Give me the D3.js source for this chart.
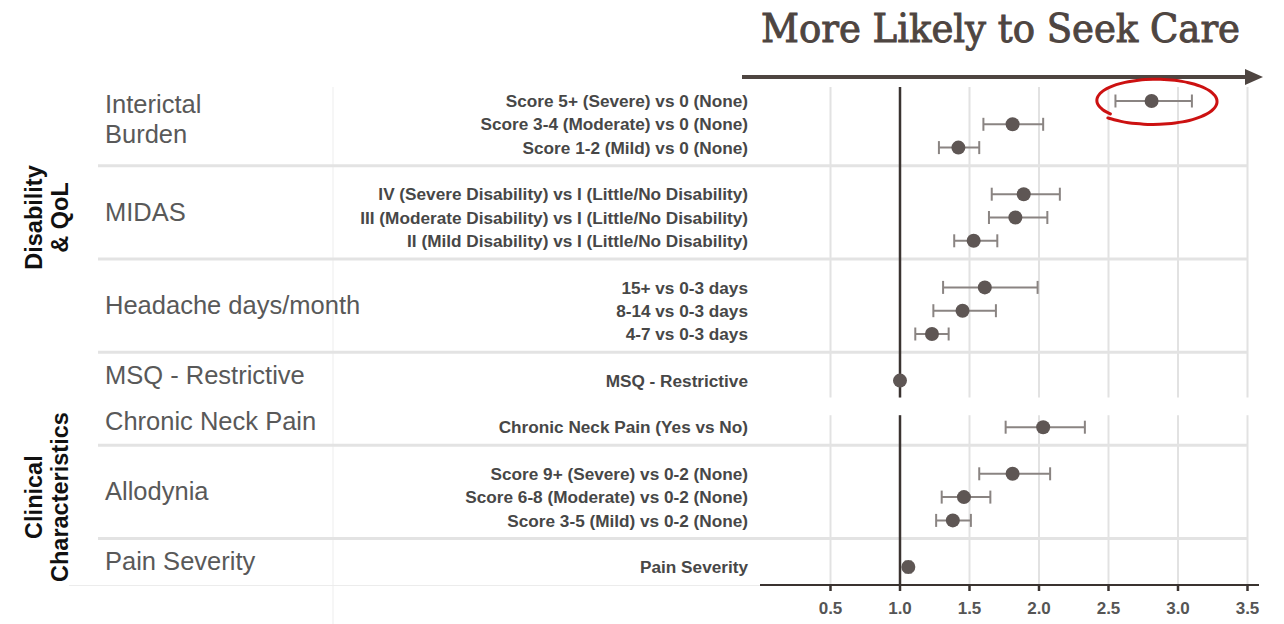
<!DOCTYPE html>
<html lang="en">
	<head>
		<meta charset="UTF-8" />
		<title>seek care forest plot</title>
		<style>
			body { margin: 0; background: #fff; }
		</style>
	</head>
	<body>
		<svg width="1284" height="624" id="mainsvg"></svg>
		<script src="https://cdn.jsdelivr.net/npm/d3@7"></script>
		<script>
			// data
			const groups = ["Interictal Burden", "MIDAS", "Headache days/month", "MSQ - Restrictive", "Chronic Neck Pain", "Allodynia", "Pain Severity"]
			const groupLines = [["Interictal", "Burden"], ["MIDAS"], ["Headache days/month"], ["MSQ - Restrictive"], ["Chronic Neck Pain"], ["Allodynia"], ["Pain Severity"]]
			const sections = ["Disability & QoL", "Clinical Characteristics"]
			const sectionLines = [["Disability", "& QoL"], ["Clinical", "Characteristics"]]
			const sectionGroups = [[0, 2], [4, 6]]
			const groupFacet = [0, 0, 0, 0, 1, 1, 1]

			const rowLabels = [
				"Score 5+ (Severe) vs 0 (None)",
				"Score 3-4 (Moderate) vs 0 (None)",
				"Score 1-2 (Mild) vs 0 (None)",
				"IV (Severe Disability) vs I (Little/No Disability)",
				"III (Moderate Disability) vs I (Little/No Disability)",
				"II (Mild Disability) vs I (Little/No Disability)",
				"15+ vs 0-3 days",
				"8-14 vs 0-3 days",
				"4-7 vs 0-3 days",
				"MSQ - Restrictive",
				"Chronic Neck Pain (Yes vs No)",
				"Score 9+ (Severe) vs 0-2 (None)",
				"Score 6-8 (Moderate) vs 0-2 (None)",
				"Score 3-5 (Mild) vs 0-2 (None)",
				"Pain Severity",
			]
			const rowGroup = [0, 0, 0, 1, 1, 1, 2, 2, 2, 3, 4, 5, 5, 5, 6]
			const oddsRatio = [2.81, 1.81, 1.42, 1.89, 1.83, 1.53, 1.61, 1.45, 1.23, 1.0, 2.03, 1.81, 1.46, 1.38, 1.06]
			const ciLow = [2.55, 1.6, 1.28, 1.66, 1.64, 1.39, 1.31, 1.24, 1.11, 0.99, 1.76, 1.57, 1.3, 1.26, 1.04]
			const ciHigh = [3.1, 2.03, 1.57, 2.15, 2.06, 1.7, 1.99, 1.69, 1.35, 1.01, 2.33, 2.08, 1.65, 1.51, 1.08]
			const xTicks = [0.5, 1.0, 1.5, 2.0, 2.5, 3.0, 3.5]
			const title = "More Likely to Seek Care"

			const svg = d3.select("#mainsvg")
			const ink = "#4e4541"
			const dot = "#5e5654"

			// slot positions: one empty slot between groups
			let slot = 0
			const rowSlot = []
			rowLabels.forEach((_, i) => {
				if (i > 0 && rowGroup[i] !== rowGroup[i - 1]) slot += 1
				rowSlot.push(slot)
				slot += 1
			})
			const rows = rowLabels.map((label, i) => ({
				label,
				group: rowGroup[i],
				or: oddsRatio[i],
				lo: ciLow[i],
				hi: ciHigh[i],
				slot: rowSlot[i],
			}))

			const x = d3.scaleLinear().domain([0, 3.5]).range([761, 1247.5])
			const y = d3.scaleLinear().domain([0, d3.max(rowSlot)]).range([101, 567])
			const step = y(1) - y(0)

			// facet extents
			const facets = [0, 1].map((f) => {
				const s = rows.filter((r) => groupFacet[r.group] === f).map((r) => r.slot)
				return { top: y(d3.min(s)) - (f === 0 ? 14 : 12), bottom: y(d3.max(s)) + (f === 0 ? 17 : 18) }
			})

			// faint left-panel lines
			svg.append("line").attr("x1", 333).attr("x2", 333).attr("y1", 87).attr("y2", 624)
				.attr("stroke", "#f3f3f3").attr("stroke-width", 1.5)
			svg.append("line").attr("x1", 69).attr("x2", 761).attr("y1", 585.5).attr("y2", 585.5)
				.attr("stroke", "#ececec").attr("stroke-width", 1)

			// vertical grid inside facets
			facets.forEach((f) => {
				svg.append("g")
					.selectAll("line")
					.data(xTicks)
					.join("line")
					.attr("x1", (d) => x(d))
					.attr("x2", (d) => x(d))
					.attr("y1", f.top)
					.attr("y2", f.bottom)
					.attr("stroke", "#e2e2e2")
					.attr("stroke-width", 2)
			})

			// group separators
			const groupEnds = groups.map((g, gi) => d3.max(rows.filter((r) => r.group === gi), (r) => r.slot))
			const seps = groupEnds.filter((s, gi) => gi < groups.length - 1 && groupFacet[gi] === groupFacet[gi + 1])
			svg.append("g")
				.selectAll("line")
				.data(seps)
				.join("line")
				.attr("x1", 98)
				.attr("x2", 1247.5)
				.attr("y1", (d) => y(d) + step * 0.78)
				.attr("y2", (d) => y(d) + step * 0.78)
				.attr("stroke", "#e3e3e3")
				.attr("stroke-width", 3)

			// reference line at 1
			facets.forEach((f) => {
				svg.append("line").attr("x1", x(1)).attr("x2", x(1)).attr("y1", f.top).attr("y2", f.bottom)
					.attr("stroke", "#3a3330").attr("stroke-width", 2.5)
			})

			// x axis
			const axis = svg.append("g").attr("transform", `translate(0,${facets[1].bottom})`)
			axis.append("line").attr("x1", 760).attr("x2", 1259).attr("stroke", "#3a3330").attr("stroke-width", 2)
			axis.selectAll(".tk")
				.data(xTicks)
				.join("line")
				.attr("class", "tk")
				.attr("x1", (d) => x(d))
				.attr("x2", (d) => x(d))
				.attr("y1", 0)
				.attr("y2", 6)
				.attr("stroke", "#3a3330")
				.attr("stroke-width", 2.5)
			axis.selectAll("text")
				.data(xTicks)
				.join("text")
				.attr("x", (d) => x(d))
				.attr("y", 29)
				.attr("text-anchor", "middle")
				.attr("font-family", "Liberation Sans, Arial, sans-serif")
				.attr("font-weight", "bold")
				.attr("font-size", 17)
				.attr("fill", "#555")
				.text((d) => d3.format(".1f")(d))

			// error bars
			const bars = svg.append("g").selectAll("g").data(rows).join("g")
			bars.append("line")
				.attr("x1", (d) => x(d.lo))
				.attr("x2", (d) => x(d.hi))
				.attr("y1", (d) => y(d.slot))
				.attr("y2", (d) => y(d.slot))
				.attr("stroke", "#8a8482")
				.attr("stroke-width", 2)
			;["lo", "hi"].forEach((k) => {
				bars.append("line")
					.attr("x1", (d) => x(d[k]))
					.attr("x2", (d) => x(d[k]))
					.attr("y1", (d) => y(d.slot) - 6.5)
					.attr("y2", (d) => y(d.slot) + 6.5)
					.attr("stroke", "#8a8482")
					.attr("stroke-width", 2)
			})
			bars.append("circle")
				.attr("cx", (d) => x(d.or))
				.attr("cy", (d) => y(d.slot))
				.attr("r", 7)
				.attr("fill", dot)

			// row labels
			svg.append("g")
				.selectAll("text")
				.data(rows)
				.join("text")
				.attr("x", 748)
				.attr("y", (d) => y(d.slot))
				.attr("dy", "0.36em")
				.attr("text-anchor", "end")
				.attr("font-family", "Liberation Sans, Arial, sans-serif")
				.attr("font-weight", "bold")
				.attr("font-size", 17.2)
				.attr("fill", "#474747")
				.text((d) => d.label)

			// group labels
			groups.forEach((g, gi) => {
				const s = rows.filter((r) => r.group === gi).map((r) => r.slot)
				const mid = y(d3.mean(s))
				const lines = groupLines[gi]
				const t = svg.append("text")
					.attr("x", 105)
					.attr("font-family", "Liberation Sans, Arial, sans-serif")
					.attr("font-size", 25.5)
					.attr("fill", "#595959")
				lines.forEach((ln, li) => {
					t.append("tspan")
						.attr("x", 105)
						.attr("y", mid + (lines.length > 1 ? 4 : 3) + (li - (lines.length - 1) / 2) * 30)
						.text(ln)
				})
			})

			// section labels (rotated)
			sections.forEach((sec, si) => {
				const [g0, g1] = sectionGroups[si]
				const s0 = d3.min(rows.filter((r) => r.group === g0), (r) => r.slot)
				const s1 = d3.max(rows.filter((r) => r.group === g1), (r) => r.slot)
				const yc = (y(s0) - 14 + y(s1) + 18) / 2 - 2
				const t = svg.append("text")
					.attr("transform", `translate(42,${yc}) rotate(-90)`)
					.attr("text-anchor", "middle")
					.attr("font-family", "Liberation Sans, Arial, sans-serif")
					.attr("font-weight", "bold")
					.attr("font-size", 23.5)
					.attr("fill", "#111")
				sectionLines[si].forEach((ln, li) => {
					t.append("tspan").attr("x", 0).attr("y", li * 26).text(ln)
				})
			})

			// title and arrow
			svg.append("text")
				.attr("x", 761)
				.attr("y", 42)
				.attr("font-family", "DejaVu Serif Condensed, DejaVu Serif, serif")
				.attr("font-size", 40)
				.attr("textLength", 479)
				.attr("lengthAdjust", "spacingAndGlyphs")
				.attr("fill", ink)
				.attr("stroke", ink)
				.attr("stroke-width", 0.9)
				.text(title)
			svg.append("line").attr("x1", 742).attr("x2", 1248).attr("y1", 77).attr("y2", 77)
				.attr("stroke", ink).attr("stroke-width", 4)
			svg.append("path").attr("d", "M1245,69 L1263,77 L1245,85 Z").attr("fill", ink)

			// hand-drawn red ring round the top estimate
			const topRow = rows[d3.maxIndex(rows, (r) => r.or)]
			const ringX = x(topRow.or) + 3
			const ringY = y(topRow.slot)
			const a0 = (141 * Math.PI) / 180
			const a1 = (495 * Math.PI) / 180
			const ring = d3.range(0, 1.0001, 0.02).map((f) => {
				const a = a0 + (a1 - a0) * f
				const k = 0.98 + 0.16 * f
				return [ringX + 58 * k * Math.cos(a), ringY + 21 * k * Math.sin(a)]
			})
			svg.append("path")
				.attr("d", d3.line().curve(d3.curveBasis)(ring))
				.attr("fill", "none")
				.attr("stroke", "#cc1111")
				.attr("stroke-width", 3)
				.attr("stroke-linecap", "round")
		</script>
	</body>
</html>
